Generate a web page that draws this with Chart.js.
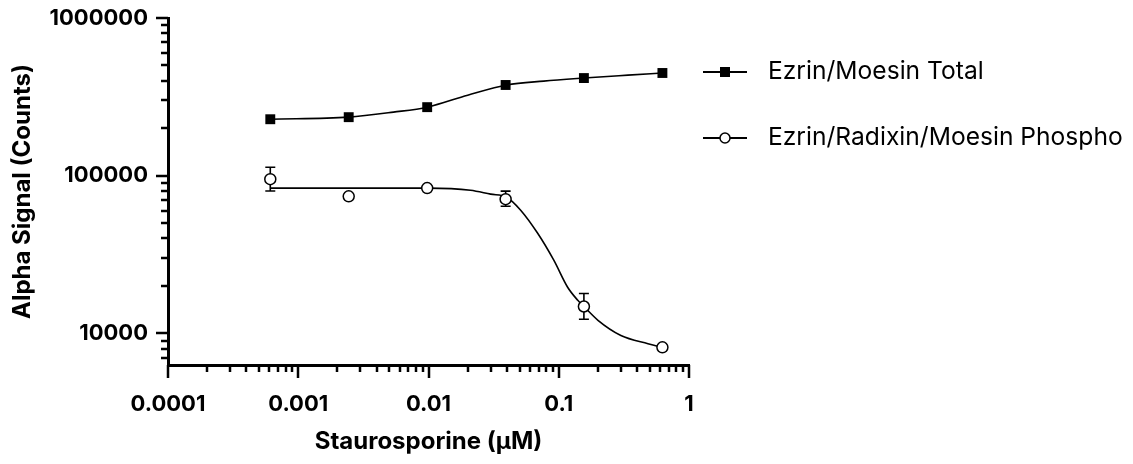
<!DOCTYPE html>
<html>
<head>
<meta charset="utf-8">
<script src="https://cdn.jsdelivr.net/npm/chart.js@4"></script>
<style>
  html, body { margin: 0; padding: 0; background: #fff; }
  #wrap { width: 1133px; height: 464px; position: relative; }
</style>
</head>
<body>
<div id="wrap"><canvas id="doseChart"></canvas></div>
<script>
/* =========================
   DATA
 ========================= */
const concentrations = [0.00061, 0.00244, 0.00977, 0.0391, 0.156, 0.625];

const totalSignal   = [228000, 235000, 272000, 376000, 416000, 448000];
const phosphoSignal = [95000, 74000, 83400, 71000, 14800, 8150];
const phosphoErrLow  = [80000, null, null, 64000, 12300, null];
const phosphoErrHigh = [113000, null, null, 79800, 17900, null];

// fitted curves
const totalFitX = [0.00061, 0.00243, 0.00538, 0.0098, 0.02, 0.0398, 0.0767, 0.156, 0.34, 0.625];
const totalFitY = [228000, 235000, 253000, 272000, 324000, 376000, 398000, 416000, 434000, 448000];
const phosphoFitX = [0.00061, 0.0098, 0.021, 0.030, 0.0398, 0.051, 0.0689, 0.0916, 0.117, 0.140, 0.156, 0.2, 0.3, 0.484, 0.625];
const phosphoFitY = [83400, 83400, 80900, 76400, 73000, 60400, 43100, 29100, 19600, 16200, 14800, 12100, 9700, 8600, 8150];

const seriesNames = ['Ezrin/Moesin Total', 'Ezrin/Radixin/Moesin Phospho'];
const xRange = [0.0001, 1];
const yRange = [6300, 1000000];

/* =========================
   HELPERS
 ========================= */
const pairs = (xs, ys) => xs.map((x, i) => ({ x, y: ys[i] }));

function significand(v) {
  const e = Math.floor(Math.log10(v) + 1e-9);
  return v / Math.pow(10, e);
}
function isDecade(v) {
  return Math.abs(significand(v) - 1) < 1e-6;
}
function isWholeTick(v) {
  const s = significand(v);
  return Math.abs(s - Math.round(s)) < 1e-6;
}
const decadeLabel = v => isDecade(v) ? String(Number(v.toPrecision(6))) : '';

/* =========================
   PLUGINS
 ========================= */
const axisTicks = {
  id: 'axisTicks',
  afterDraw(chart) {
    const { ctx, scales: { x, y } } = chart;
    ctx.save();
    ctx.strokeStyle = '#000';
    ctx.lineWidth = 2.5;
    ctx.beginPath();
    y.ticks.forEach(t => {
      if (!isWholeTick(t.value) || t.value < yRange[0] || t.value > yRange[1] * 1.0001) return;
      const py = Math.round(y.getPixelForValue(t.value));
      const len = isDecade(t.value) ? 12 : 7;
      ctx.moveTo(x.left - len, py);
      ctx.lineTo(x.left, py);
    });
    x.ticks.forEach(t => {
      if (!isWholeTick(t.value)) return;
      const px = Math.round(x.getPixelForValue(t.value));
      const len = isDecade(t.value) ? 13 : 7;
      ctx.moveTo(px, y.bottom);
      ctx.lineTo(px, y.bottom + len);
    });
    ctx.stroke();
    ctx.restore();
  }
};

const errorBars = {
  id: 'errorBars',
  beforeDatasetsDraw(chart) {
    const { ctx, scales: { x, y } } = chart;
    ctx.save();
    ctx.strokeStyle = '#000';
    ctx.lineWidth = 1.6;
    concentrations.forEach((c, i) => {
      if (phosphoErrLow[i] == null) return;
      const px = x.getPixelForValue(c);
      const top = y.getPixelForValue(phosphoErrHigh[i]);
      const bot = y.getPixelForValue(phosphoErrLow[i]);
      ctx.beginPath();
      ctx.moveTo(px, top); ctx.lineTo(px, bot);
      ctx.moveTo(px - 5, top); ctx.lineTo(px + 5, top);
      ctx.moveTo(px - 5, bot); ctx.lineTo(px + 5, bot);
      ctx.stroke();
    });
    ctx.restore();
  }
};

const sideLegend = {
  id: 'sideLegend',
  afterDraw(chart) {
    const ctx = chart.ctx;
    const rows = [
      { name: seriesNames[0], y: 72, style: 'rect' },
      { name: seriesNames[1], y: 138, style: 'circle' }
    ];
    ctx.save();
    rows.forEach(r => {
      ctx.strokeStyle = '#000';
      ctx.lineWidth = 1.8;
      ctx.beginPath();
      ctx.moveTo(703, r.y); ctx.lineTo(747, r.y);
      ctx.stroke();
      if (r.style === 'rect') {
        ctx.fillStyle = '#000';
        ctx.fillRect(720, r.y - 5, 10, 10);
      } else {
        ctx.fillStyle = '#fff';
        ctx.lineWidth = 1.5;
        ctx.beginPath();
        ctx.arc(725, r.y, 5, 0, Math.PI * 2);
        ctx.fill();
        ctx.stroke();
      }
      ctx.fillStyle = '#000';
      ctx.font = '24.6px Inter, "Noto Sans", sans-serif';
      ctx.textBaseline = 'middle';
      ctx.textAlign = 'left';
      ctx.fillText(r.name, 768, r.y);
    });
    ctx.restore();
  }
};

/* =========================
   CHART
 ========================= */
const axisFont = { family: 'Inter, "Noto Sans", sans-serif', size: 22, weight: 'bold' };
const titleFont = { family: 'Inter, "Noto Sans", sans-serif', size: 24, weight: 'bold' };

new Chart(document.getElementById('doseChart'), {
  type: 'scatter',
  data: {
    datasets: [
      {
        label: seriesNames[0],
        data: pairs(concentrations, totalSignal),
        pointStyle: 'rect',
        pointRadius: 7,
        backgroundColor: '#000',
        borderColor: '#000',
        borderWidth: 0,
        order: 0
      },
      {
        label: seriesNames[1],
        data: pairs(concentrations, phosphoSignal),
        pointStyle: 'circle',
        pointRadius: 5.5,
        backgroundColor: '#fff',
        borderColor: '#000',
        borderWidth: 1.5,
        order: 0
      },
      {
        label: 'fit total',
        data: pairs(totalFitX, totalFitY),
        showLine: true,
        pointRadius: 0,
        borderColor: '#000',
        borderWidth: 1.6,
        cubicInterpolationMode: 'monotone',
        order: 1
      },
      {
        label: 'fit phospho',
        data: pairs(phosphoFitX, phosphoFitY),
        showLine: true,
        pointRadius: 0,
        borderColor: '#000',
        borderWidth: 1.6,
        cubicInterpolationMode: 'monotone',
        order: 1
      }
    ]
  },
  options: {
    responsive: true,
    maintainAspectRatio: false,
    animation: false,
    layout: { padding: { top: 18, right: 444, left: 0, bottom: 0 } },
    plugins: {
      legend: { display: false },
      tooltip: { enabled: false }
    },
    scales: {
      x: {
        type: 'logarithmic',
        min: xRange[0],
        max: xRange[1],
        border: { display: true, color: '#000', width: 3 },
        grid: { display: true, drawOnChartArea: false, drawTicks: false, color: 'transparent' },
        ticks: {
          autoSkip: false,
          maxRotation: 0,
          padding: 26,
          color: '#000',
          font: axisFont,
          callback: v => decadeLabel(v)
        },
        title: {
          display: true,
          text: 'Staurosporine (µM)',
          color: '#000',
          font: titleFont,
          padding: { top: 0, bottom: 8 }
        },
        afterFit: s => { s.height = 99; s.paddingLeft = 0; s.paddingRight = 0; }
      },
      y: {
        type: 'logarithmic',
        min: yRange[0],
        max: yRange[1],
        border: { display: true, color: '#000', width: 3 },
        grid: { display: true, drawOnChartArea: false, drawTicks: false, color: 'transparent' },
        ticks: {
          autoSkip: false,
          padding: 20,
          color: '#000',
          font: axisFont,
          callback: v => decadeLabel(v)
        },
        title: {
          display: true,
          text: 'Alpha Signal (Counts)',
          color: '#000',
          font: titleFont,
          padding: { top: 8, bottom: 0 }
        },
        afterFit: s => { s.width = 168; s.paddingTop = 0; s.paddingBottom = 0; }
      }
    }
  },
  plugins: [errorBars, axisTicks, sideLegend]
});
</script>
</body>
</html>
